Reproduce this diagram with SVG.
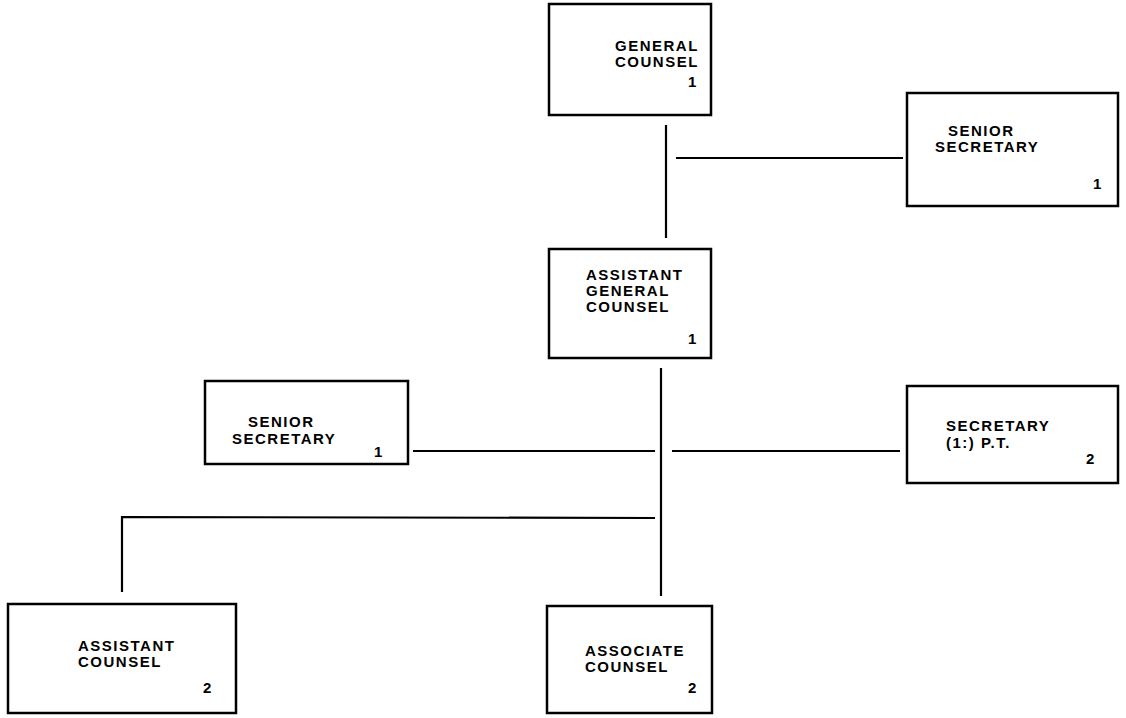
<svg xmlns="http://www.w3.org/2000/svg" width="1126" height="718" viewBox="0 0 1126 718">
<style>
.box{fill:#fff;stroke:#000;stroke-width:2.5}
.t{font-family:"Liberation Sans",Arial,sans-serif;font-weight:bold;font-size:15px;letter-spacing:1.5px;fill:#000}
.c{stroke:#000;stroke-width:2.2;fill:none}
</style>
<rect width="1126" height="718" fill="#fff"/>
<g id="connectors">
<line class="c" x1="666" y1="125" x2="666" y2="238"/>
<line class="c" x1="676" y1="158" x2="903" y2="158"/>
<line class="c" x1="661" y1="368" x2="661" y2="596"/>
<line class="c" x1="413" y1="451" x2="655" y2="451"/>
<line class="c" x1="672" y1="451" x2="900" y2="451"/>
<polyline class="c" points="122,592 122,517 655,518"/>
</g>
<g id="general-counsel">
<rect class="box" x="549" y="4" width="162" height="111"/>
<text class="t" x="615" y="51">GENERAL</text>
<text class="t" x="615" y="67">COUNSEL</text>
<text class="t" x="688" y="87">1</text>
</g>
<g id="senior-secretary-top">
<rect class="box" x="907" y="93" width="211" height="113"/>
<text class="t" x="948" y="136">SENIOR</text>
<text class="t" x="935" y="152">SECRETARY</text>
<text class="t" x="1093" y="189">1</text>
</g>
<g id="assistant-general-counsel">
<rect class="box" x="549" y="249" width="162" height="109"/>
<text class="t" x="586" y="280">ASSISTANT</text>
<text class="t" x="586" y="296">GENERAL</text>
<text class="t" x="586" y="312">COUNSEL</text>
<text class="t" x="688" y="344">1</text>
</g>
<g id="senior-secretary-left">
<rect class="box" x="205" y="381" width="203" height="83"/>
<text class="t" x="248" y="427">SENIOR</text>
<text class="t" x="232" y="444">SECRETARY</text>
<text class="t" x="374" y="457">1</text>
</g>
<g id="secretary-pt">
<rect class="box" x="907" y="386" width="211" height="97"/>
<text class="t" x="946" y="431">SECRETARY</text>
<text class="t" x="946" y="448">(1:) P.T.</text>
<text class="t" x="1086" y="464">2</text>
</g>
<g id="assistant-counsel">
<rect class="box" x="8" y="604" width="228" height="109"/>
<text class="t" x="78" y="651">ASSISTANT</text>
<text class="t" x="78" y="667">COUNSEL</text>
<text class="t" x="203" y="693">2</text>
</g>
<g id="associate-counsel">
<rect class="box" x="547" y="606" width="165" height="107"/>
<text class="t" x="585" y="656">ASSOCIATE</text>
<text class="t" x="585" y="672">COUNSEL</text>
<text class="t" x="688" y="693">2</text>
</g>
</svg>
